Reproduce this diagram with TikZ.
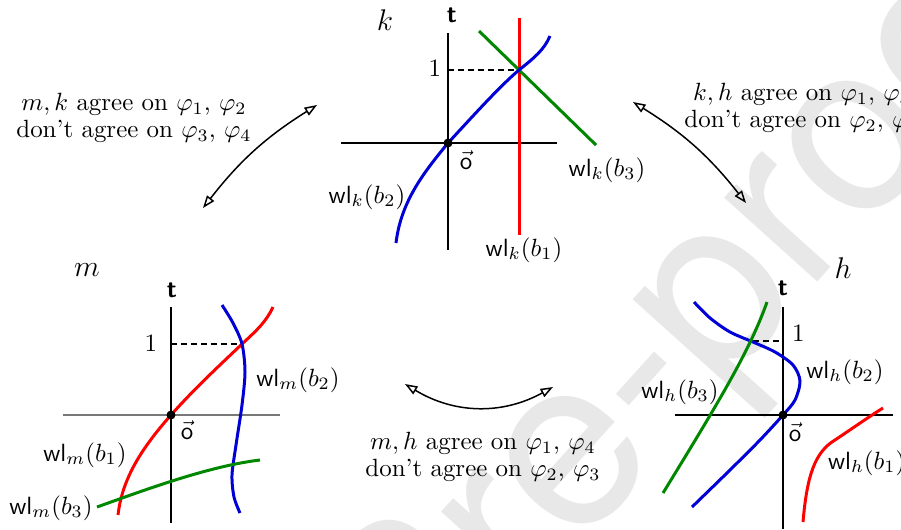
\documentclass[tikz,border=0pt]{standalone}
\usepackage{fontspec}
\newfontfamily\markfont{TeX Gyre Heros}
\usetikzlibrary{arrows.meta}
\definecolor{wlred}{RGB}{255,0,0}
\definecolor{wlblue}{RGB}{0,0,215}
\definecolor{wlgreen}{RGB}{0,135,0}
\definecolor{markgray}{RGB}{232,232,232}
\definecolor{axisgray}{RGB}{120,120,120}
\tikzset{
  axis/.style={line width=0.8pt, draw=black},
  axisfaint/.style={axis, draw=axisgray},
  wline/.style={line width=1.2pt},
  guide/.style={line width=0.6pt, dash pattern=on 2.4pt off 1.6pt},
  origin/.style={circle, fill=black, inner sep=0pt, minimum size=3.6pt},
  lbl/.style={inner sep=1pt},
  framename/.style={inner sep=1pt, font=\fontsize{11.5}{13}\selectfont},
  agree/.style={align=center, font=\fontsize{10}{10.8}\selectfont, inner sep=1pt},
  swaparr/.style={{Triangle[open,length=5pt,width=3.6pt]}-{Triangle[open,length=5pt,width=3.6pt]},
                  line width=0.6pt},
  watermark/.style={text=markgray, font=\markfont\fontsize{96}{96}\selectfont, inner sep=0pt},
}

\begin{document}
\begin{tikzpicture}[x=0.401pt, y=-0.401pt]
  \useasboundingbox (0,0) rectangle (901,529);
  % ---- watermark ----
  \begin{scope}
    \clip (0,0) rectangle (901,529);
    \node[watermark, rotate=48, anchor=base west] (mark) at (416,728) {Pre-proof};
  \end{scope}

  % ---- frame k ----
  \draw[axis] (448,33) -- (448,250);
  \draw[axis] (341,143) -- (557,143);
  \draw[guide] (448,70) -- (519,70);
  \draw[wline, wlred] (519,18) -- (519,235);
  \draw[wline, wlgreen] (479,31) -- (596,145);
  \draw[wline, wlblue] (396,243) .. controls (401,200) and (426,170) .. (448,143)
      .. controls (472,117) and (500,86) .. (519,70) .. controls (534,58) and (544,50) .. (550,36);
  \node[origin] (ko) at (448,143) {};
  \node[framename] (kname) at (385,20) {$k$};
  \node[lbl] (kt) at (452,15) {\textsf{\bfseries t}};
  \node[lbl, anchor=east] (kone) at (444,68) {1};
  \node[lbl] (kvec) at (466,160) {$\vec{\mathsf{o}}$};
  \node[lbl] (kb1) at (524,250) {$\mathsf{wl}_k(b_1)$};
  \node[lbl] (kb2) at (367,197) {$\mathsf{wl}_k(b_2)$};
  \node[lbl] (kb3) at (607,170) {$\mathsf{wl}_k(b_3)$};

  % ---- frame m ----
  \draw[axis] (171,307) -- (171,523);
  \draw[axisfaint] (63,415) -- (280,415);
  \draw[guide] (171,344) -- (242,344);
  \draw[wline, wlred] (118,515) .. controls (122,480) and (140,450) .. (171,415)
      .. controls (195,388) and (220,365) .. (242,344) .. controls (257,330) and (266,322) .. (273,307);
  \draw[wline, wlblue] plot[smooth] coordinates {(222,305) (233,323) (242,344) (245,372)
      (242,405) (236,445) (232,475) (234,497) (240,513)};
  \draw[wline, wlgreen] (97,507) .. controls (150,488) and (210,466) .. (260,460);
  \node[origin] (mo) at (171,415) {};
  \node[framename] (mname) at (87,270) {$m$};
  \node[lbl] (mt) at (172,290) {\textsf{\bfseries t}};
  \node[lbl, anchor=east] (mone) at (160,343) {1};
  \node[lbl] (mvec) at (187,430) {$\vec{\mathsf{o}}$};
  \node[lbl] (mb1) at (85,455) {$\mathsf{wl}_m(b_1)$};
  \node[lbl] (mb2) at (298,380) {$\mathsf{wl}_m(b_2)$};
  \node[lbl] (mb3) at (51,508) {$\mathsf{wl}_m(b_3)$};

  % ---- frame h ----
  \draw[axis] (783,307) -- (783,529);
  \draw[axis] (675,415) -- (893,415);
  \draw[guide] (753,341) -- (783,341);
  \draw[wline, wlblue] plot[smooth] coordinates {(694,302) (710,318) (730,332) (753,342)
      (775,352) (793,365) (800,381) (795,400) (783,415) (760,440) (730,470) (692,507)};
  \draw[wline, wlgreen] (767,302) .. controls (750,350) and (720,400) .. (663,493);
  \draw[wline, wlred] (803,522) .. controls (807,475) and (815,452) .. (835,440)
      .. controls (850,430) and (870,416) .. (883,408);
  \node[origin] (ho) at (783,415) {};
  \node[framename] (hname) at (843,268) {$h$};
  \node[lbl] (ht) at (783,288) {\textsf{\bfseries t}};
  \node[lbl, anchor=west] (hone) at (789,333) {1};
  \node[lbl] (hvec) at (795,432) {$\vec{\mathsf{o}}$};
  \node[lbl, anchor=west] (hb1) at (825,463) {$\mathsf{wl}_h(b_1)$};
  \node[lbl] (hb2) at (845,372) {$\mathsf{wl}_h(b_2)$};
  \node[lbl] (hb3) at (680,392) {$\mathsf{wl}_h(b_3)$};

  % ---- agreement between frames ----
  \coordinate (mkA) at (203,208);
  \coordinate (mkB) at (317,105);
  \coordinate (khA) at (633,102);
  \coordinate (khB) at (746,203);
  \coordinate (mhA) at (405,384);
  \coordinate (mhB) at (553,387);
  \draw[swaparr] (mkA) to[bend left=10] (mkB);
  \draw[swaparr] (khA) to[bend left=10] (khB);
  \draw[swaparr] (mhA) to[bend right=30] (mhB);

  \node[agree] (mktext) at (134,118) {$m,k$ agree on $\varphi_1$, $\varphi_2$\\ don't agree on $\varphi_3$, $\varphi_4$};
  \node[agree] (khtext) at (802,108) {$k,h$ agree on $\varphi_1$, $\varphi_3$\\ don't agree on $\varphi_2$, $\varphi_4$};
  \node[agree] (mhtext) at (483,457) {$m,h$ agree on $\varphi_1$, $\varphi_4$\\ don't agree on $\varphi_2$, $\varphi_3$};
\end{tikzpicture}
\end{document}
